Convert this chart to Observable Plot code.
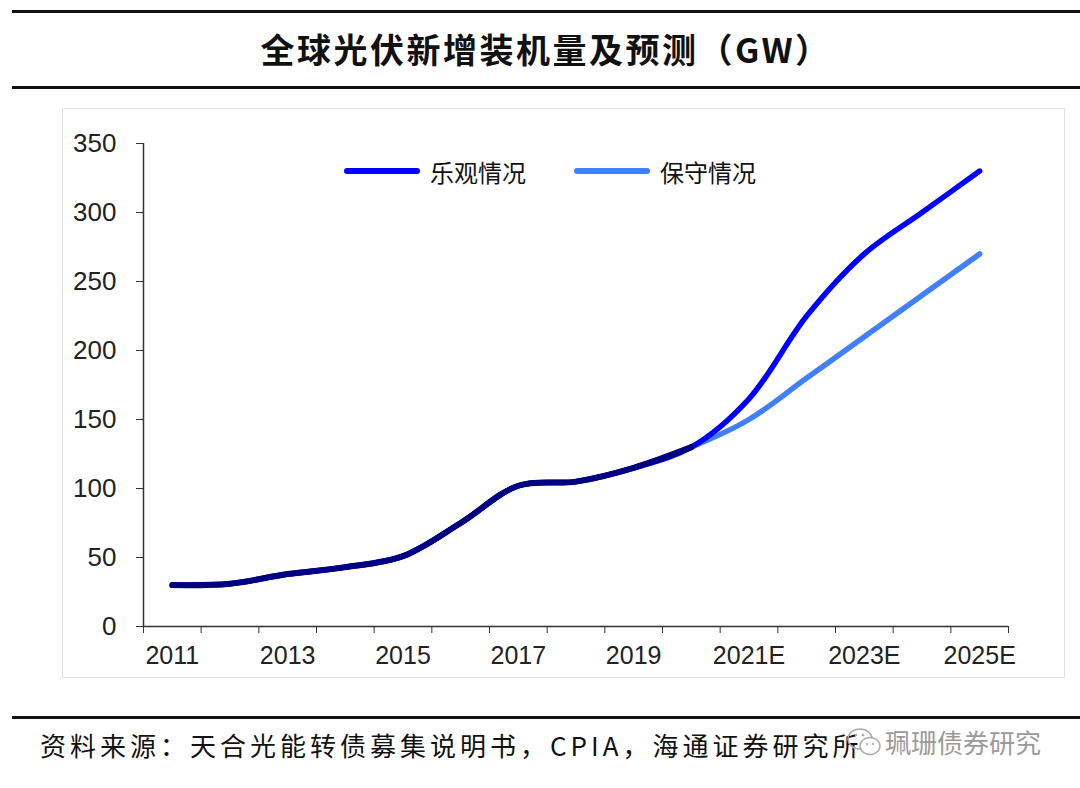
<!DOCTYPE html>
<html>
<head>
<meta charset="utf-8">
<script src="https://cdn.jsdelivr.net/npm/d3@7"></script>
<script src="https://cdn.jsdelivr.net/npm/@observablehq/plot@0.6"></script>
<style>
  html, body { margin: 0; padding: 0; background: #fff; }
  #page { position: relative; width: 1080px; height: 788px; overflow: hidden; font-family: "Noto Sans CJK SC", sans-serif; }
  .hr { position: absolute; left: 12px; right: 0; background: #111; }
  #title { position: absolute; left: 12px; width: 1068px; top: 24px; text-align: center; font-size: 34px; font-weight: 700; color: #111; line-height: 50px; letter-spacing: 2.5px; }
  #frame { position: absolute; left: 62px; top: 108px; width: 1003px; height: 570px; border: 1px solid #e2e2e2; box-sizing: border-box; }
  #chart { position: absolute; left: 0; top: 100px; }
  .leg { position: absolute; top: 156px; height: 30px; display: flex; align-items: center; font-size: 24px; color: #111; }
  .leg .sw { width: 76px; height: 6px; border-radius: 3px; margin-right: 10px; }
  #source { position: absolute; left: 40px; top: 725px; font-size: 26px; color: #111; letter-spacing: 4px; line-height: 40px; }
  #wm { position: absolute; left: 885px; top: 722px; font-size: 26px; color: #9a9a9a; line-height: 40px; }
  #wmicon { position: absolute; left: 846px; top: 726px; }
</style>
</head>
<body>
<div id="page">
  <div class="hr" style="top:10px;height:3px;"></div>
  <div id="title">全球光伏新增装机量及预测（GW）</div>
  <div class="hr" style="top:86px;height:3px;"></div>
  <div id="frame"></div>
  <div id="chart"></div>
  <div class="leg" style="left:344px;"><div class="sw" style="background:#0000ff"></div><span>乐观情况</span></div>
  <div class="leg" style="left:574px;"><div class="sw" style="background:#4080ff"></div><span>保守情况</span></div>
  <div class="hr" style="top:716px;height:3px;"></div>
  <div id="source">资料来源：天合光能转债募集说明书，CPIA，海通证券研究所</div>
  <svg id="wmicon" width="38" height="34" viewBox="0 0 38 34">
    <ellipse cx="14" cy="13" rx="12" ry="10" fill="none" stroke="#aaa" stroke-width="1.5"/>
    <ellipse cx="24" cy="20" rx="10" ry="8.5" fill="#fff" stroke="#aaa" stroke-width="1.5"/>
    <circle cx="10" cy="9" r="1.3" fill="#aaa"/><circle cx="17" cy="9" r="1.3" fill="#aaa"/>
    <circle cx="21" cy="18" r="1.1" fill="#aaa"/><circle cx="27" cy="18" r="1.1" fill="#aaa"/>
  </svg>
  <div id="wm">珮珊债券研究</div>
</div>
<script>
const years = ["2011","2012","2013","2014","2015","2016","2017","2018","2019","2020","2021E","2022E","2023E","2024E","2025E"];
const actual = [30, 31, 38, 43, 51, 75, 102, 105, 115, 130];           // 2011-2020
const optimistic = [130, 165, 225, 270, 300, 330];                     // 2020-2025E
const conservative = [130, 150, 180, 210, 240, 270];                   // 2020-2025E
const yTicks = [0, 50, 100, 150, 200, 250, 300, 350];

const histRows = actual.map((v, i) => ({i, v}));
const optRows = actual.concat(optimistic.slice(1)).map((v, i) => ({i, v}));
const conRows = actual.concat(conservative.slice(1)).map((v, i) => ({i, v}));

const boundaries = d3.range(-0.5, years.length, 1);
const labelIdx = d3.range(0, years.length, 2);

const fontAxis = "'Liberation Sans', Arial, sans-serif";

const chart = Plot.plot({
  width: 1080,
  height: 590,
  marginTop: 43,
  marginBottom: 64,
  marginLeft: 143,
  marginRight: 72,
  style: {fontFamily: fontAxis, fontSize: "25px", color: "#222", background: "transparent"},
  x: {domain: [-0.5, years.length - 0.5]},
  y: {domain: [0, 350]},
  marks: [
    Plot.axisY({ticks: yTicks, tickSize: 7, tickPadding: 20, stroke: "#333", fontSize: 26, label: null}),
    Plot.axisX({ticks: boundaries, tickSize: 7, tickFormat: () => "", stroke: "#333", label: null}),
    Plot.axisX({ticks: labelIdx, tickSize: 0, tickPadding: 20, tickFormat: i => years[i], fontSize: 25, label: null}),
    Plot.ruleX([-0.5], {stroke: "#333", strokeWidth: 1.5}),
    Plot.ruleY([0], {stroke: "#333", strokeWidth: 1.5}),
    Plot.line(conRows, {x: "i", y: "v", stroke: "#4080ff", strokeWidth: 5.5, curve: "catmull-rom", strokeLinecap: "round"}),
    Plot.line(optRows, {x: "i", y: "v", stroke: "#0000ff", strokeWidth: 5.5, curve: "catmull-rom", strokeLinecap: "round"}),
    Plot.line(histRows, {x: "i", y: "v", stroke: "#000080", strokeWidth: 6, curve: "catmull-rom", strokeLinecap: "round"})
  ]
});
document.getElementById("chart").appendChild(chart);
</script>
</body>
</html>
